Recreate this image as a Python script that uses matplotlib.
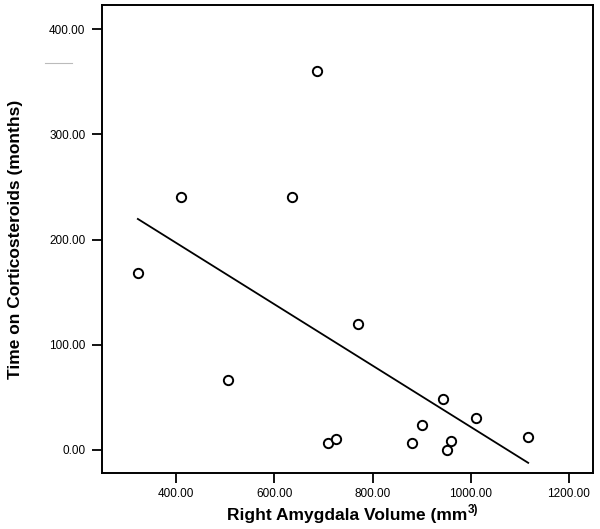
import matplotlib
matplotlib.use("Agg")
import matplotlib.pyplot as plt
import numpy as np

plt.rcParams['font.family'] = ['Liberation Sans', 'DejaVu Sans']

# right amygdala volume (mm3) vs time on corticosteroids (months)
volume = [322, 410, 505, 635, 687, 710, 725, 771, 881, 900, 943, 952, 959, 1010, 1117]
months = [168, 240, 66, 240, 360, 7, 10, 120, 7, 24, 48, 0, 8, 30, 12]
xticks = [400, 600, 800, 1000, 1200]
yticks = [0, 100, 200, 300, 400]

fig = plt.figure(figsize=(6, 5.29), dpi=100)
ax = fig.add_axes([102/600, 1 - 473/529, 491/600, 468/529])

ax.scatter(volume, months, s=45, facecolors='white', edgecolors='black',
           linewidths=1.4, zorder=3)

# linear fit
slope, icpt = np.polyfit(volume, months, 1)
xs = np.array([min(volume), max(volume)])
ax.plot(xs, slope * xs + icpt, color='black', lw=1.3)

ax.set_xlim(249, 1249)
ax.set_ylim(-22, 423)
ax.set_xticks(xticks, labels=[f"{v:.2f}" for v in xticks])
ax.set_yticks(yticks, labels=[f"{v:.2f}" for v in yticks])
ax.tick_params(direction='out', length=7, width=1.3, labelsize=8.5, pad=5)
ax.tick_params(axis='x', pad=4)
for sp in ax.spines.values():
    sp.set_linewidth(1.4)

# x label with a raised "3)" appended
xl = ax.text(0.5, -0.100, 'Right Amygdala Volume (mm', transform=ax.transAxes,
             ha='center', va='baseline', fontsize=12.5, fontweight='bold')
ax.annotate('3)', xy=(1, 0.45), xycoords=xl, ha='left', va='bottom',
            fontsize=8.5, fontweight='bold')
ax.set_ylabel('Time on Corticosteroids (months)', fontsize=12.5, fontweight='bold', labelpad=19)

# faint stray mark left of the axis
fig.add_artist(plt.Line2D([45/600, 72/600], [1 - 63/529, 1 - 63/529],
                          color='#bbbbbb', lw=0.8))

fig.savefig('out.png', dpi=100)
